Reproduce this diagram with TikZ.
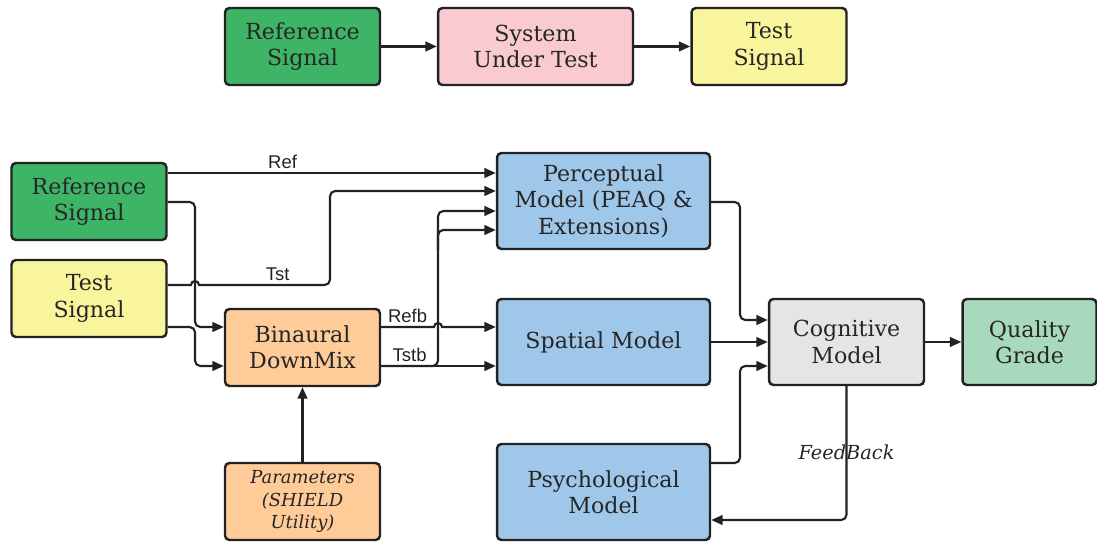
\documentclass[tikz,border=0pt]{standalone}
\usepackage{fontspec}
\setmainfont{DejaVu Serif}
\setsansfont{Liberation Sans}
\usepackage{tikz}
\usepackage{xcolor}
\usetikzlibrary{arrows.meta,positioning,calc}
\definecolor{ink}{HTML}{222222}
\definecolor{txt}{HTML}{262626}
\definecolor{refgreen}{HTML}{3EB566}
\definecolor{sutpink}{HTML}{F9CBD0}
\definecolor{tstyellow}{HTML}{F8F59C}
\definecolor{mixorange}{HTML}{FFCC99}
\definecolor{modelblue}{HTML}{9FC7EA}
\definecolor{coggray}{HTML}{E5E5E7}
\definecolor{gradegreen}{HTML}{A9D9BC}
\tikzset{
  block/.style={draw=ink,line width=1.4pt,rounded corners=2.5pt,
                text=txt,align=center,inner sep=2pt,
                font=\fontsize{12.6}{15}\selectfont},
  sigbox/.style={block,minimum width=3.1cm,minimum height=1.54cm},
  modelbox/.style={block,fill=modelblue,minimum width=4.26cm},
  flow/.style={-{Triangle[length=6.5pt,width=5.5pt]},line width=1.2pt,color=ink},
  wire/.style={line width=1.2pt,color=ink},
  lbl/.style={font=\sffamily\fontsize{10.5}{12}\selectfont,text=ink,inner sep=2pt}
}

\begin{document}
\begin{tikzpicture}[x=0.02cm,y=-0.02cm]
  \useasboundingbox (0,0) rectangle (1097,543);
  % chain on top
  \node[sigbox,fill=refgreen] (reftop) at (302.5,46.5) {Reference\\Signal};
  \node[sigbox,fill=sutpink,minimum width=3.9cm] (sut) at (535.5,46.5) {System\\Under Test};
  \node[sigbox,fill=tstyellow] (tsttop) at (769,46.5) {Test\\Signal};
  \draw[flow] (reftop) -- (sut);
  \draw[flow] (sut) -- (tsttop);

  % inputs
  \node[sigbox,fill=refgreen] (ref) at (89,201.5) {Reference\\Signal};
  \node[sigbox,fill=tstyellow] (tst) at (89,298.5) {Test\\Signal};
  \node[sigbox,fill=mixorange] (mix) at (302.5,347.5) {Binaural\\DownMix};
  \node[sigbox,fill=mixorange,font=\itshape\fontsize{10.2}{12.6}\selectfont] (param) at (302.5,501.5)
    {Parameters\\(SHIELD\\Utility)};

  % models
  \node[modelbox,minimum height=1.92cm] (perc) at (603.5,201) {Perceptual\\Model (PEAQ \&\\Extensions)};
  \node[modelbox,minimum height=1.72cm] (spat) at (603.5,342) {Spatial Model};
  \node[modelbox,minimum height=1.92cm] (psy) at (603.5,492) {Psychological\\Model};
  \node[sigbox,fill=coggray,minimum height=1.72cm] (cog) at (846.5,342) {Cognitive\\Model};
  \node[sigbox,fill=gradegreen,minimum width=2.68cm,minimum height=1.72cm] (grade) at (1029.5,342) {Quality\\Grade};

  % signal paths
  \draw[flow] (ref.east |- 0,173) -- node[lbl,above,pos=0.35]{Ref} (perc.west |- 0,173);
  \draw[flow,rounded corners=3pt] (ref.east |- 0,202) -- (195,202) -- (195,327) -- (mix.west |- 0,327);
  \draw[flow] (tst.east |- 0,285) -- (191,285) arc[start angle=180,end angle=0,radius=0.08cm]
    [rounded corners=3pt] -- node[lbl,above,pos=0.6]{Tst} (330,285) -- (330,191) -- (perc.west |- 0,191);
  \draw[flow,rounded corners=3pt] (tst.east |- 0,327) -- (195,327) -- (195,366) -- (mix.west |- 0,366);
  \draw[flow] (param) -- (mix);

  \draw[flow] (mix.east |- 0,327) -- node[lbl,above]{Refb} (434,327)
    arc[start angle=180,end angle=0,radius=0.08cm] -- (spat.west |- 0,327);
  \draw[flow] (mix.east |- 0,366) -- node[lbl,above]{Tstb} (438,366) -- (spat.west |- 0,366);
  \draw[flow,rounded corners=3pt] (mix.east |- 0,366) -- (438,366) -- (438,211) -- (perc.west |- 0,211);
  \draw[flow,rounded corners=3pt] (438,250) -- (438,230) -- (perc.west |- 0,230);

  % into the cognitive model
  \draw[flow,rounded corners=3pt] (perc.east |- 0,202) -- (740,202) -- (740,320) -- (cog.west |- 0,320);
  \draw[flow] (spat) -- (cog);
  \draw[flow,rounded corners=3pt] (psy.east |- 0,463) -- (740,463) -- (740,366) -- (cog.west |- 0,366);
  \draw[flow] (cog) -- (grade);
  \draw[flow,rounded corners=3pt] (cog.south) -- (846.5,520) -- (psy.east |- 0,520);
  \node[font=\itshape\fontsize{11}{13}\selectfont,text=txt] (fb) at (846.5,452) {FeedBack};
\end{tikzpicture}
\end{document}
